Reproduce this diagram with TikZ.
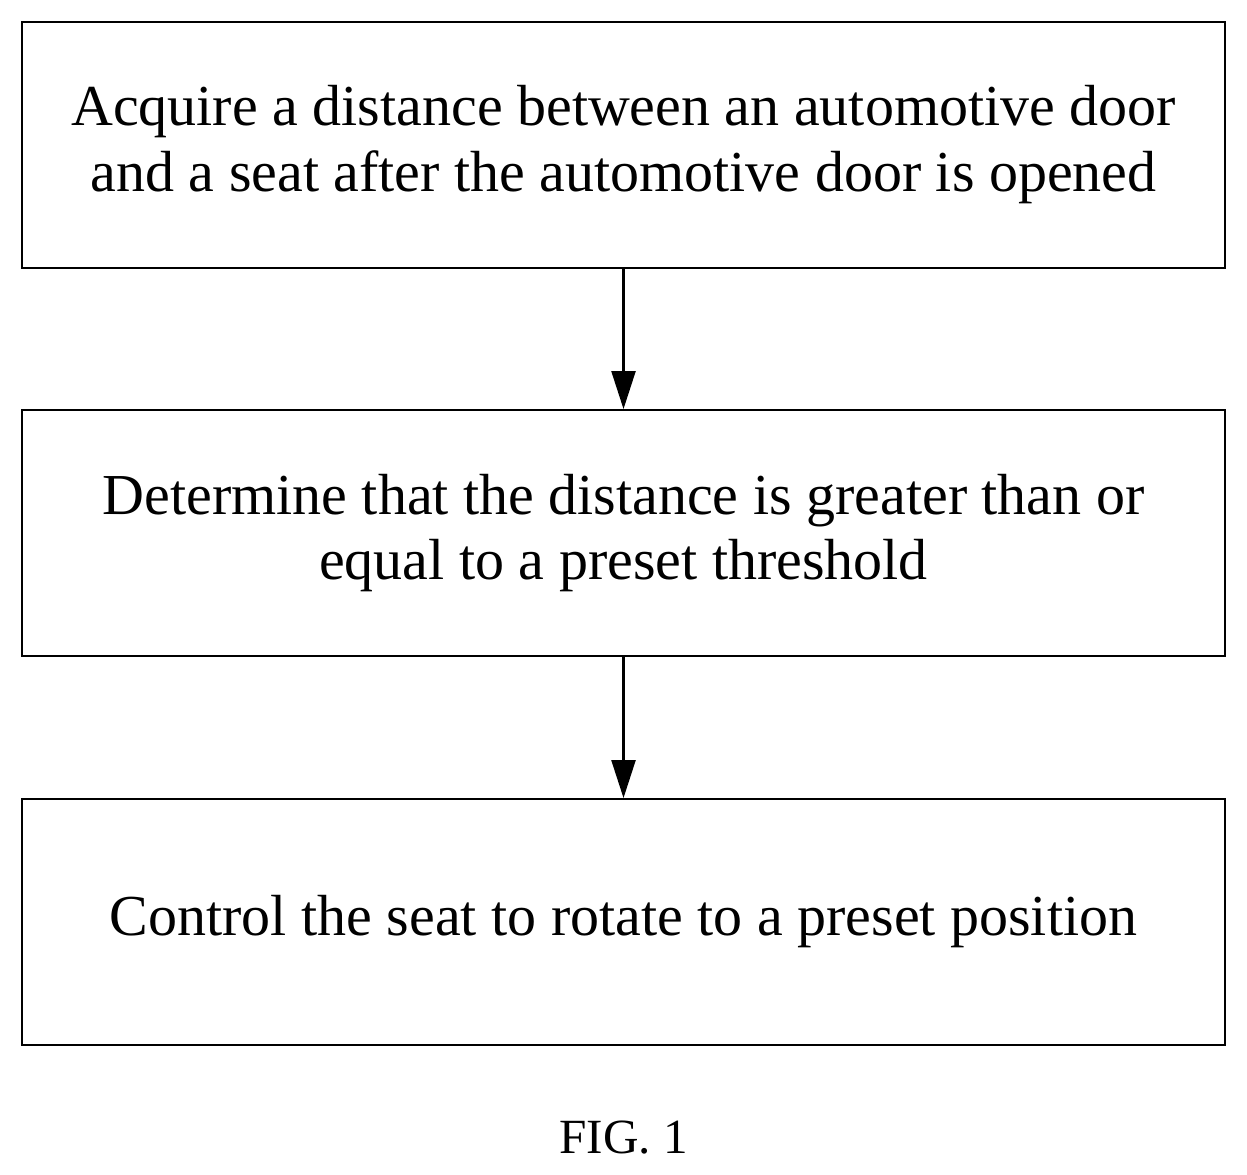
\documentclass[tikz,border=0pt]{standalone}
\usepackage{fontspec}
\setmainfont{Liberation Serif}
\usetikzlibrary{arrows.meta,positioning}
\begin{document}
\begin{tikzpicture}
    [x=0.02cm,y=-0.02cm,
     stepbox/.style={draw=black,line width=1.1pt,minimum width=24.06cm,minimum height=4.92cm,
       align=center,font=\fontsize{33}{37.5}\selectfont,inner sep=0pt},
     post/.style={-{Triangle[length=0.76cm,width=0.48cm]},line width=1.3pt}]
    \useasboundingbox (0,0) rectangle (1247,1175);
    \node [stepbox] (acquire) at (623.5,145) {Acquire a distance between an automotive door\\and a seat after the automotive door is opened};
    \node [stepbox] (determine) at (623.5,533) {Determine that the distance is greater than or\\equal to a preset threshold};
    \node [stepbox] (control) at (623.5,922) {Control the seat to rotate to a preset position};
    \draw [post] (acquire) -- (determine);
    \draw [post] (determine) -- (control);
    \node [font=\fontsize{28}{32}\selectfont] (fig) at (623.5,1138) {FIG. 1};
  \end{tikzpicture}
\end{document}
